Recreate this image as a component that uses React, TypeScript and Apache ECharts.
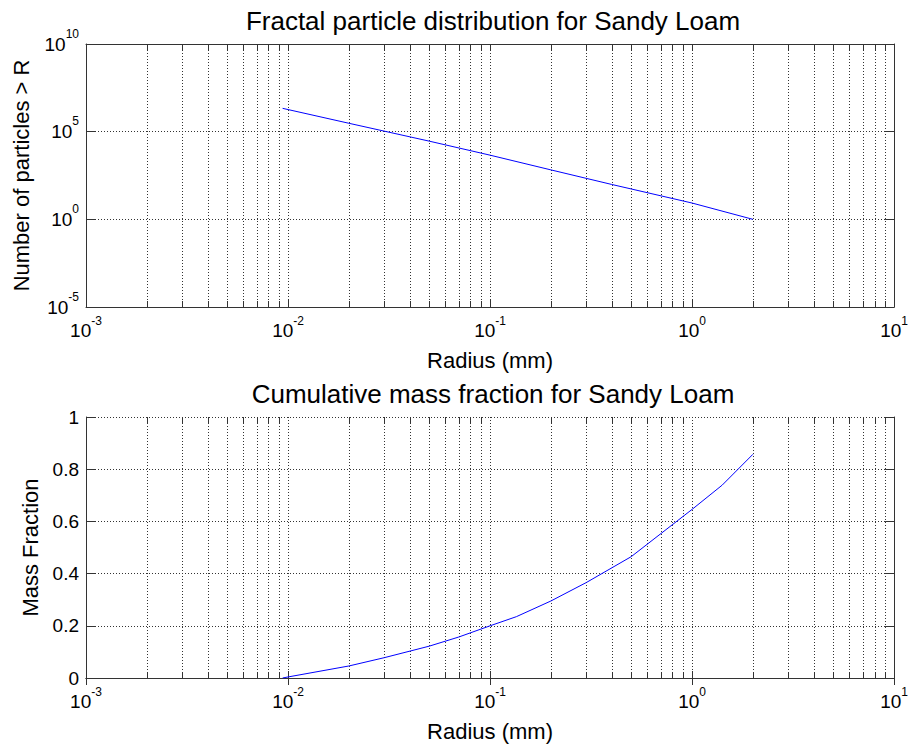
import React, { useEffect, useRef } from "react";
import * as echarts from "echarts";

// ---- data ----
const topRadius = [0.0094, 0.02, 0.05, 0.1, 0.2, 0.4, 1.0, 2.0];
const topCount = [2.14e6, 3.02e5, 2.88e4, 4.57e3, 661, 97.7, 8.5, 1];

const botRadius = [0.0094, 0.01, 0.02, 0.03, 0.05, 0.07, 0.1, 0.135, 0.2, 0.3, 0.5, 1.0, 1.41, 2.0];
const botFraction = [0, 0.004, 0.046, 0.078, 0.122, 0.157, 0.2, 0.235, 0.295, 0.366, 0.465, 0.646, 0.739, 0.857];

const minorXTicks = [
  0.002, 0.003, 0.004, 0.005, 0.006, 0.007, 0.008, 0.009,
  0.02, 0.03, 0.04, 0.05, 0.06, 0.07, 0.08, 0.09,
  0.2, 0.3, 0.4, 0.5, 0.6, 0.7, 0.8, 0.9,
  2, 3, 4, 5, 6, 7, 8, 9,
];

const topTitle = "Fractal particle distribution for Sandy Loam";
const botTitle = "Cumulative mass fraction for Sandy Loam";
const xName = "Radius (mm)";
const topYName = "Number of particles > R";
const botYName = "Mass Fraction";

const FONT = "'Liberation Sans', Arial, Helvetica, sans-serif";
const AXIS_COLOR = "#333333";
const GRID_COLOR = "#333333";
const DASH = [1, 2];

const expFormatter = (v: number) => {
  const e = Math.round(Math.log10(v));
  return `{b|10}{e|${e}}`;
};

const richX = {
  b: { fontSize: 19, lineHeight: 30, fontFamily: FONT, color: "#000" },
  e: { fontSize: 12, lineHeight: 12, verticalAlign: "top", fontFamily: FONT, color: "#000" },
};
const richY = {
  b: { fontSize: 19, lineHeight: 33, fontFamily: FONT, color: "#000" },
  e: { fontSize: 12, lineHeight: 12, verticalAlign: "top", fontFamily: FONT, color: "#000" },
};

function makeXAxes(gridIndex: number) {
  const main = {
    type: "log",
    logBase: 10,
    gridIndex,
    min: 0.001,
    max: 10,
    interval: 1,
    position: "bottom",
    name: xName,
    nameLocation: "middle",
    nameGap: 42,
    nameTextStyle: { fontSize: 22, fontFamily: FONT, color: "#000" },
    axisLine: { show: true, lineStyle: { color: AXIS_COLOR, width: 1 } },
    axisTick: { show: true, inside: true, length: 7, lineStyle: { color: AXIS_COLOR } },
    axisLabel: { show: true, margin: 8, formatter: expFormatter, rich: richX },
    splitLine: { show: true, lineStyle: { color: GRID_COLOR, type: DASH, width: 1 } },
  };
  const top = {
    type: "log",
    logBase: 10,
    gridIndex,
    min: 0.001,
    max: 10,
    interval: 1,
    position: "top",
    axisLine: { show: true, lineStyle: { color: AXIS_COLOR, width: 1 } },
    axisTick: { show: true, inside: true, length: 7, lineStyle: { color: AXIS_COLOR } },
    axisLabel: { show: false },
    splitLine: { show: false },
  };
  return [main, top];
}

export default function App() {
  const ref = useRef<HTMLDivElement>(null);

  useEffect(() => {
    if (!ref.current) return;
    const chart = echarts.init(ref.current, null, { renderer: "svg" });

    const minorRender = (params: any, api: any) => {
      const cs = params.coordSys;
      const x = Math.round(api.coord([api.value(0), api.value(1)])[0]) + 0.5;
      const top = cs.y;
      const bot = cs.y + cs.height;
      return {
        type: "group",
        children: [
          { type: "line", shape: { x1: x, y1: top, x2: x, y2: bot }, style: { stroke: GRID_COLOR, lineWidth: 1, lineDash: DASH } },
          { type: "line", shape: { x1: x, y1: bot, x2: x, y2: bot - 6 }, style: { stroke: AXIS_COLOR, lineWidth: 1 } },
          { type: "line", shape: { x1: x, y1: top, x2: x, y2: top + 6 }, style: { stroke: AXIS_COLOR, lineWidth: 1 } },
        ],
      };
    };

    const option: any = {
      animation: false,
      backgroundColor: "#ffffff",
      textStyle: { fontFamily: FONT },
      title: [
        { text: topTitle, left: 488, top: 3, textAlign: "center", textStyle: { fontSize: 26, fontWeight: "normal", color: "#000", fontFamily: FONT } },
        { text: botTitle, left: 488, top: 376, textAlign: "center", textStyle: { fontSize: 26, fontWeight: "normal", color: "#000", fontFamily: FONT } },
      ],
      grid: [
        { left: 86, right: 15, top: 44, height: 263, containLabel: false },
        { left: 86, right: 15, top: 417, height: 261, containLabel: false },
      ],
      xAxis: [...makeXAxes(0), ...makeXAxes(1)],
      yAxis: [
        {
          type: "log",
          logBase: 10,
          gridIndex: 0,
          min: 1e-5,
          max: 1e10,
          interval: 5,
          position: "left",
          name: topYName,
          nameLocation: "middle",
          nameGap: 54,
          nameTextStyle: { fontSize: 22, fontFamily: FONT, color: "#000" },
          axisLine: { show: true, lineStyle: { color: AXIS_COLOR } },
          axisTick: { show: true, inside: true, length: 9, lineStyle: { color: AXIS_COLOR } },
          axisLabel: { margin: 7, formatter: expFormatter, rich: richY },
          splitLine: { show: true, lineStyle: { color: GRID_COLOR, type: DASH } },
        },
        {
          type: "log",
          logBase: 10,
          gridIndex: 0,
          min: 1e-5,
          max: 1e10,
          interval: 5,
          position: "right",
          axisLine: { show: true, lineStyle: { color: AXIS_COLOR } },
          axisTick: { show: true, inside: true, length: 9, lineStyle: { color: AXIS_COLOR } },
          axisLabel: { show: false },
          splitLine: { show: false },
        },
        {
          type: "value",
          gridIndex: 1,
          min: 0,
          max: 1,
          interval: 0.2,
          position: "left",
          name: botYName,
          nameLocation: "middle",
          nameGap: 45,
          nameTextStyle: { fontSize: 22, fontFamily: FONT, color: "#000" },
          axisLine: { show: true, lineStyle: { color: AXIS_COLOR } },
          axisTick: { show: true, inside: true, length: 9, lineStyle: { color: AXIS_COLOR } },
          axisLabel: { margin: 7, fontSize: 19, color: "#000", fontFamily: FONT },
          splitLine: { show: true, lineStyle: { color: GRID_COLOR, type: DASH } },
        },
        {
          type: "value",
          gridIndex: 1,
          min: 0,
          max: 1,
          interval: 0.2,
          position: "right",
          axisLine: { show: true, lineStyle: { color: AXIS_COLOR } },
          axisTick: { show: true, inside: true, length: 9, lineStyle: { color: AXIS_COLOR } },
          axisLabel: { show: false },
          splitLine: { show: false },
        },
      ],
      series: [
        {
          type: "custom",
          xAxisIndex: 0,
          yAxisIndex: 0,
          z: 1,
          silent: true,
          renderItem: minorRender,
          data: minorXTicks.map((v) => [v, 1]),
        },
        {
          type: "custom",
          xAxisIndex: 2,
          yAxisIndex: 2,
          z: 1,
          silent: true,
          renderItem: minorRender,
          data: minorXTicks.map((v) => [v, 0.5]),
        },
        {
          type: "line",
          xAxisIndex: 0,
          yAxisIndex: 0,
          z: 5,
          showSymbol: false,
          symbol: "none",
          lineStyle: { color: "#0000ff", width: 1 },
          data: topRadius.map((r, i) => [r, topCount[i]]),
        },
        {
          type: "line",
          xAxisIndex: 2,
          yAxisIndex: 2,
          z: 5,
          showSymbol: false,
          symbol: "none",
          lineStyle: { color: "#0000ff", width: 1 },
          data: botRadius.map((r, i) => [r, botFraction[i]]),
        },
      ],
    };

    chart.setOption(option);
    return () => chart.dispose();
  }, []);

  return (
    <div
      ref={ref}
      style={{ position: "absolute", left: 0, top: 0, width: 911, height: 749, background: "#fff" }}
    />
  );
}
